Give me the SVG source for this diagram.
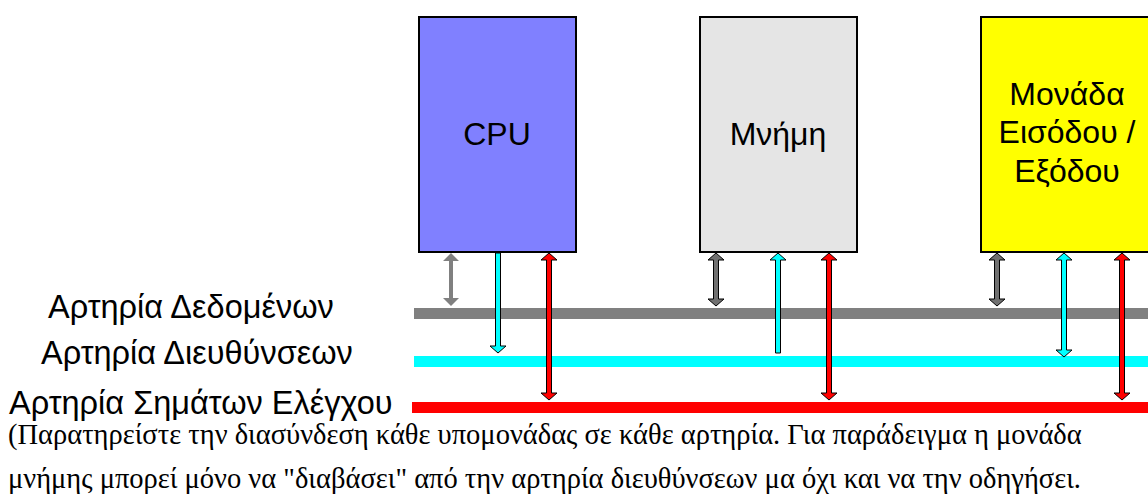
<svg xmlns="http://www.w3.org/2000/svg" width="1148" height="504" viewBox="0 0 1148 504">
<style>
.box{stroke:#000;stroke-width:2}
.lbl{font-family:"Liberation Sans",Arial,sans-serif;font-size:32px;fill:#000;text-anchor:middle}
.bl{font-family:"Liberation Sans",Arial,sans-serif;font-size:32.5px;fill:#000}
.note{font-family:"Liberation Serif","Times New Roman",serif;font-size:28.5px;fill:#000}
.ag{fill:#808080;stroke:none}
.ad{fill:#707070;stroke:#000;stroke-width:1}
.ac{fill:#00ffff;stroke:#000;stroke-width:1}
.ar{fill:#ff0000;stroke:#000;stroke-width:1}
</style>
<rect width="1148" height="504" fill="#fff"/>
<g id="bus-data"><rect x="414" y="308" width="734" height="11" fill="#808080"/><text class="bl" x="48" y="318">Αρτηρία Δεδομένων</text></g>
<g id="bus-addr"><rect x="414" y="356" width="734" height="11" fill="#00ffff"/><text class="bl" x="41" y="364">Αρτηρία Διευθύνσεων</text></g>
<g id="bus-ctrl"><rect x="412" y="402" width="736" height="11" fill="#ff0000"/><text class="bl" x="9" y="414">Αρτηρία Σημάτων Ελέγχου</text></g>
<g id="cpu"><rect class="box" x="419" y="17" width="157" height="235" fill="#8080ff"/><text class="lbl" x="497" y="145">CPU</text></g>
<g id="memory"><rect class="box" x="700" y="17" width="157" height="235" fill="#e5e5e5"/><text class="lbl" x="778" y="145">Μνήμη</text></g>
<g id="io"><rect class="box" x="981" y="17" width="180" height="235" fill="#ffff00"/><text class="lbl" x="1067" y="105">Μονάδα</text><text class="lbl" x="1067" y="143">Εισόδου /</text><text class="lbl" x="1067" y="182">Εξόδου</text></g>
<g id="connectors">
<polygon class="ag" points="451,253 459,261 453,261 453,298 459,298 451,306 443,298 449,298 449,261 443,261"/>
<polygon class="ac" points="495.5,253 500.5,253 500.5,346 506,346 498,353 490,346 495.5,346"/>
<polygon class="ar" points="549,253 557,260 551.5,260 551.5,393 557,393 549,400 541,393 546.5,393 546.5,260 541,260"/>
<polygon class="ad" points="716,253 724,260 718.5,260 718.5,299 724,299 716,306 708,299 713.5,299 713.5,260 708,260"/>
<polygon class="ac" points="778,253 786,260 780.5,260 780.5,353 775.5,353 775.5,260 770,260"/>
<polygon class="ar" points="829,253 837,260 831.5,260 831.5,393 837,393 829,400 821,393 826.5,393 826.5,260 821,260"/>
<polygon class="ad" points="997,253 1005,260 999.5,260 999.5,299 1005,299 997,306 989,299 994.5,299 994.5,260 989,260"/>
<polygon class="ac" points="1064,253 1072,260 1066.5,260 1066.5,350 1072,350 1064,357 1056,350 1061.5,350 1061.5,260 1056,260"/>
<polygon class="ar" points="1122,253 1130,260 1124.5,260 1124.5,393 1130,393 1122,400 1114,393 1119.5,393 1119.5,260 1114,260"/>
</g>
<text class="note" x="8" y="444">(Παρατηρείστε την διασύνδεση κάθε υπομονάδας σε κάθε αρτηρία. Για παράδειγμα η μονάδα</text>
<text class="note" x="8" y="488">μνήμης μπορεί μόνο να "διαβάσει" από την αρτηρία διευθύνσεων μα όχι και να την οδηγήσει.</text>
</svg>
